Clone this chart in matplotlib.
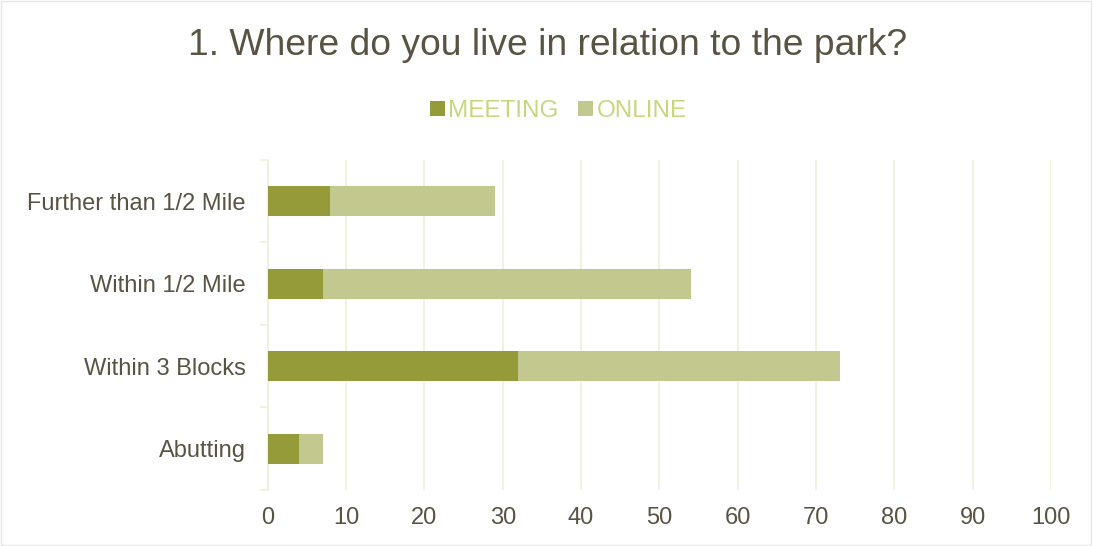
import matplotlib.pyplot as plt
import numpy as np

categories = ['Abutting', 'Within 3 Blocks', 'Within 1/2 Mile', 'Further than 1/2 Mile']
meeting = [4, 32, 7, 8]
online = [3, 41, 47, 21]

plt.rcParams['font.family'] = ['Liberation Sans', 'DejaVu Sans']
text_col = '#595343'
grid_col = '#EEF0DA'

fig = plt.figure(figsize=(10.93, 5.46), dpi=100)
ax = fig.add_axes([0.245, 0.1026, 0.7166, 0.6044])

y = np.arange(len(categories))
ax.barh(y, meeting, height=0.36, color='#959B38', label='MEETING', zorder=3)
ax.barh(y, online, left=meeting, height=0.36, color='#C3C88F', label='ONLINE', zorder=3)

ax.set_xlim(0, 100)
ax.set_ylim(-0.5, len(categories) - 0.5)
ax.set_xticks(np.arange(0, 101, 10))
ax.set_yticks(y)
ax.set_yticklabels(categories)
ax.set_yticks(np.arange(-0.5, len(categories), 1), minor=True)
ax.tick_params(axis='y', which='major', length=0, pad=16, labelsize=17, labelcolor=text_col)
ax.tick_params(axis='y', which='minor', length=6, color=grid_col, width=1.2)
ax.tick_params(axis='x', length=0, pad=12, labelsize=17, labelcolor=text_col)
ax.grid(axis='x', color=grid_col, linewidth=1.2, zorder=0)
for s in ['top', 'right', 'bottom']:
    ax.spines[s].set_visible(False)
ax.spines['left'].set_color(grid_col)
ax.spines['left'].set_linewidth(1.2)

fig.text(0.501, 0.917, '1. Where do you live in relation to the park?', ha='center', va='center',
         fontsize=26.8, color=text_col)
leg = fig.legend(loc='center', bbox_to_anchor=(0.511, 0.797), ncol=2, frameon=False,
                 fontsize=17.5, handlelength=0.6, handleheight=0.6, handletextpad=0.15,
                 columnspacing=0.8)
for t in leg.get_texts():
    t.set_color('#C9D67E')

fig.patches.append(plt.Rectangle((0.001, 0.002), 0.997, 0.996, transform=fig.transFigure,
                                 fill=False, edgecolor='#E6E6E6', linewidth=1))

fig.savefig('out.png', dpi=100)
